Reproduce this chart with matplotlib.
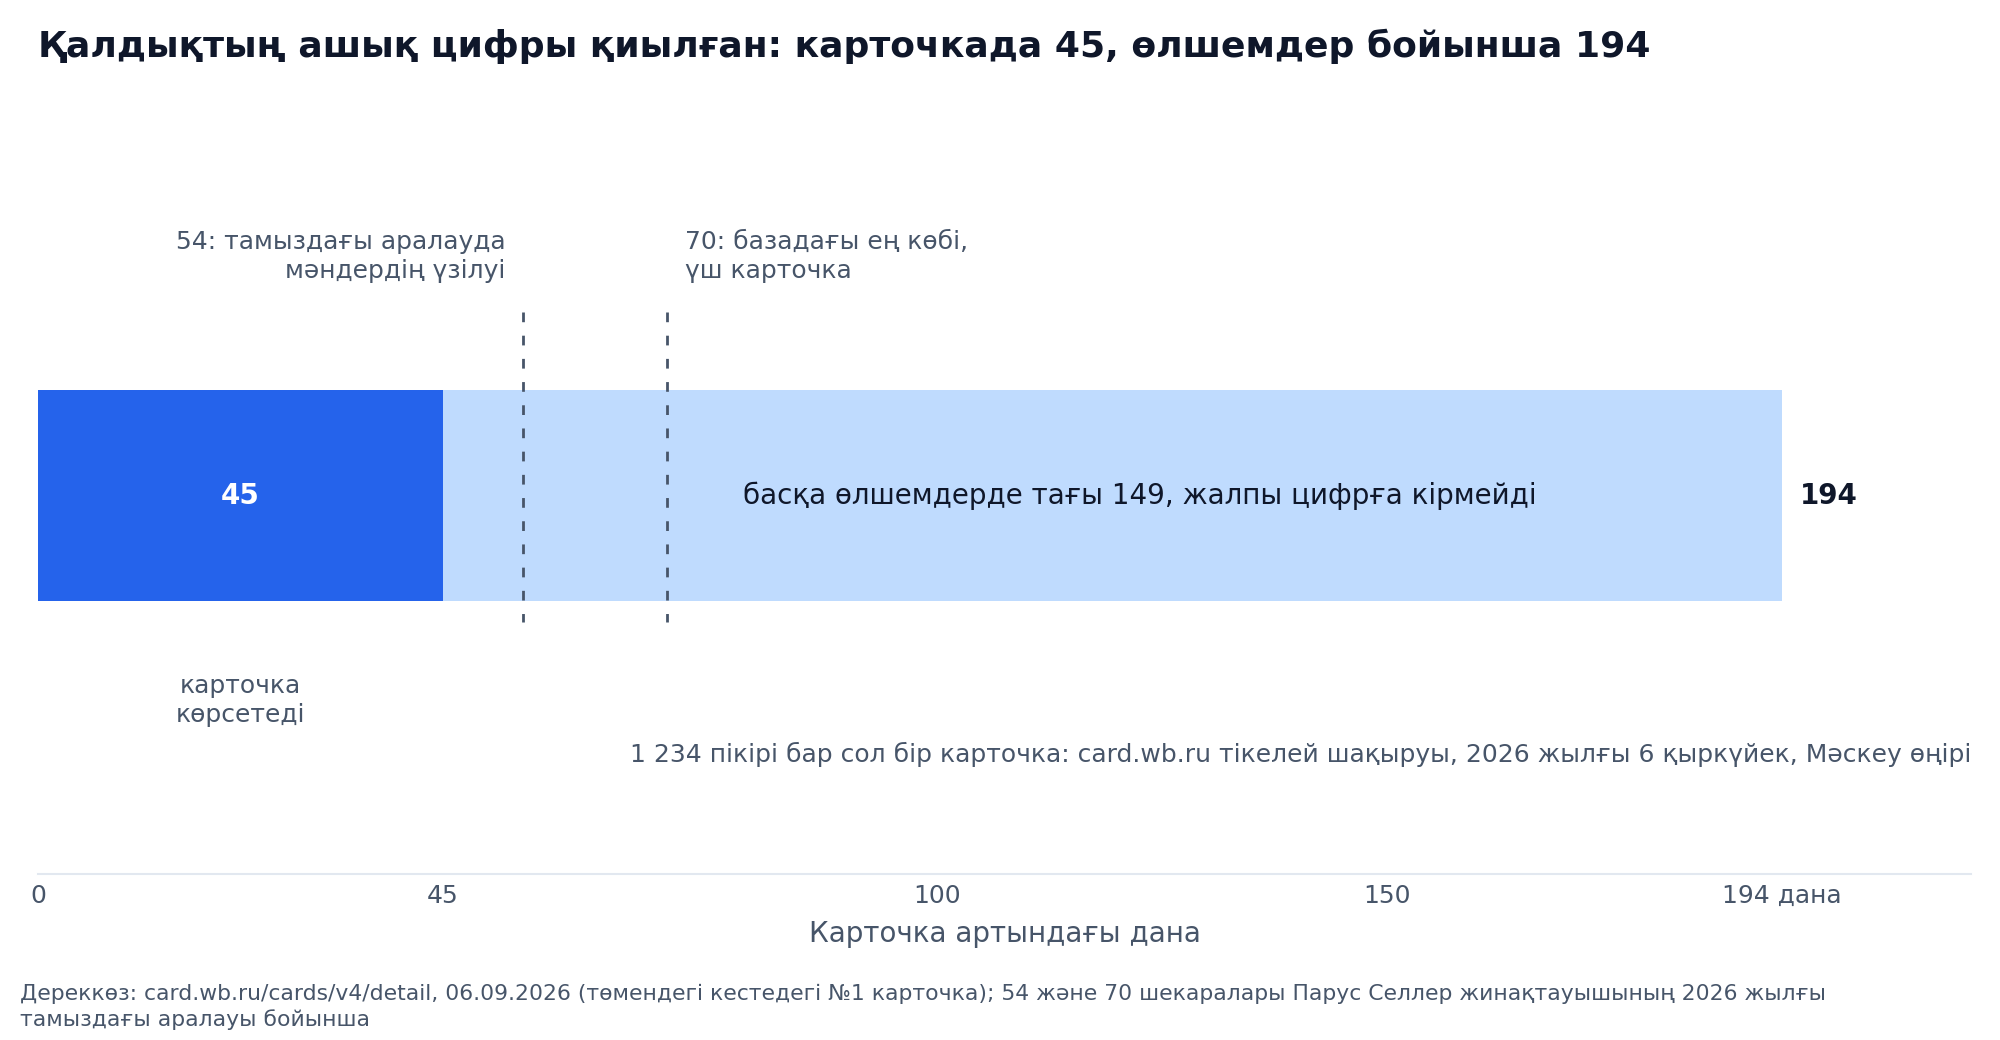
import matplotlib.pyplot as plt

# data
shown = 45
total = 194
rest = total - shown
marks = [54, 70]
mark_labels = ["54: тамыздағы аралауда\nмәндердің үзілуі", "70: базадағы ең көбі,\nүш карточка"]
tick_vals = [0, 45, 100, 150, 194]
tick_labels = ["0", "45", "100", "150", "194 дана"]

title = "Қалдықтың ашық цифры қиылған: карточкада 45, өлшемдер бойынша 194"
note = "1 234 пікірі бар сол бір карточка: card.wb.ru тікелей шақыруы, 2026 жылғы 6 қыркүйек, Мәскеу өңірі"
source = ("Дереккөз: card.wb.ru/cards/v4/detail, 06.09.2026 (төмендегі кестедегі №1 карточка); "
          "54 және 70 шекаралары Парус Селлер жинақтауышының 2026 жылғы\nтамыздағы аралауы бойынша")

dark = "#2563eb"
light = "#bfdbfe"
ink = "#0f172a"
grey = "#475569"

plt.rcParams['font.family'] = ['DejaVu Sans']

fig = plt.figure(figsize=(20, 10.4), dpi=100)
ax = fig.add_axes([0.019, 1 - 874 / 1040, 0.9665, 774 / 1040])
ax.set_xlim(0, 215)
ax.set_ylim(0, 1)

yc, h = 0.489, 0.272
ax.barh(yc, shown, height=h, left=0, color=dark)
ax.barh(yc, rest, height=h, left=shown, color=light)

for m in marks:
    ax.plot([m, m], [0.726, 0.325], color="#475569", lw=2, ls=(0, (3.5, 4.85)))

ax.text(marks[0] - 2, 0.764, mark_labels[0], ha="right", va="bottom", fontsize=18, color=grey,
        linespacing=1.25, multialignment="right")
ax.text(marks[1] + 2, 0.764, mark_labels[1], ha="left", va="bottom", fontsize=18, color=grey,
        linespacing=1.25)

ax.text(shown / 2, yc, str(shown), ha="center", va="center", fontsize=20, fontweight="bold", color="white")
ax.text(122.5, yc, f"басқа өлшемдерде тағы {rest}, жалпы цифрға кірмейді", ha="center", va="center",
        fontsize=20, color=ink)
ax.text(total + 2, yc, str(total), ha="left", va="center", fontsize=20, fontweight="bold", color=ink)
ax.text(shown / 2, 0.258, "карточка\nкөрсетеді", ha="center", va="top", fontsize=18, color=grey,
        linespacing=1.25)
ax.text(215, 0.154, note, ha="right", va="center", fontsize=18, color=grey)

ax.set_yticks([])
ax.set_xticks(tick_vals)
ax.set_xticklabels(tick_labels)
ax.tick_params(axis="x", length=0, labelsize=18, labelcolor=grey, pad=7)
for s in ["top", "right", "left"]:
    ax.spines[s].set_visible(False)
ax.spines["bottom"].set_color("#e2e8f0")
ax.spines["bottom"].set_linewidth(1.5)
ax.set_xlabel("Карточка артындағы дана", fontsize=20, color=grey, labelpad=9)

fig.text(0.019, 1 - 46 / 1040, title, ha="left", va="center", fontsize=26, fontweight="bold", color=ink)
fig.text(0.01, 1 - 984 / 1040, source, ha="left", va="top", fontsize=15.75, color=grey, linespacing=1.3)

fig.savefig("out.png", dpi=100, facecolor="white")
